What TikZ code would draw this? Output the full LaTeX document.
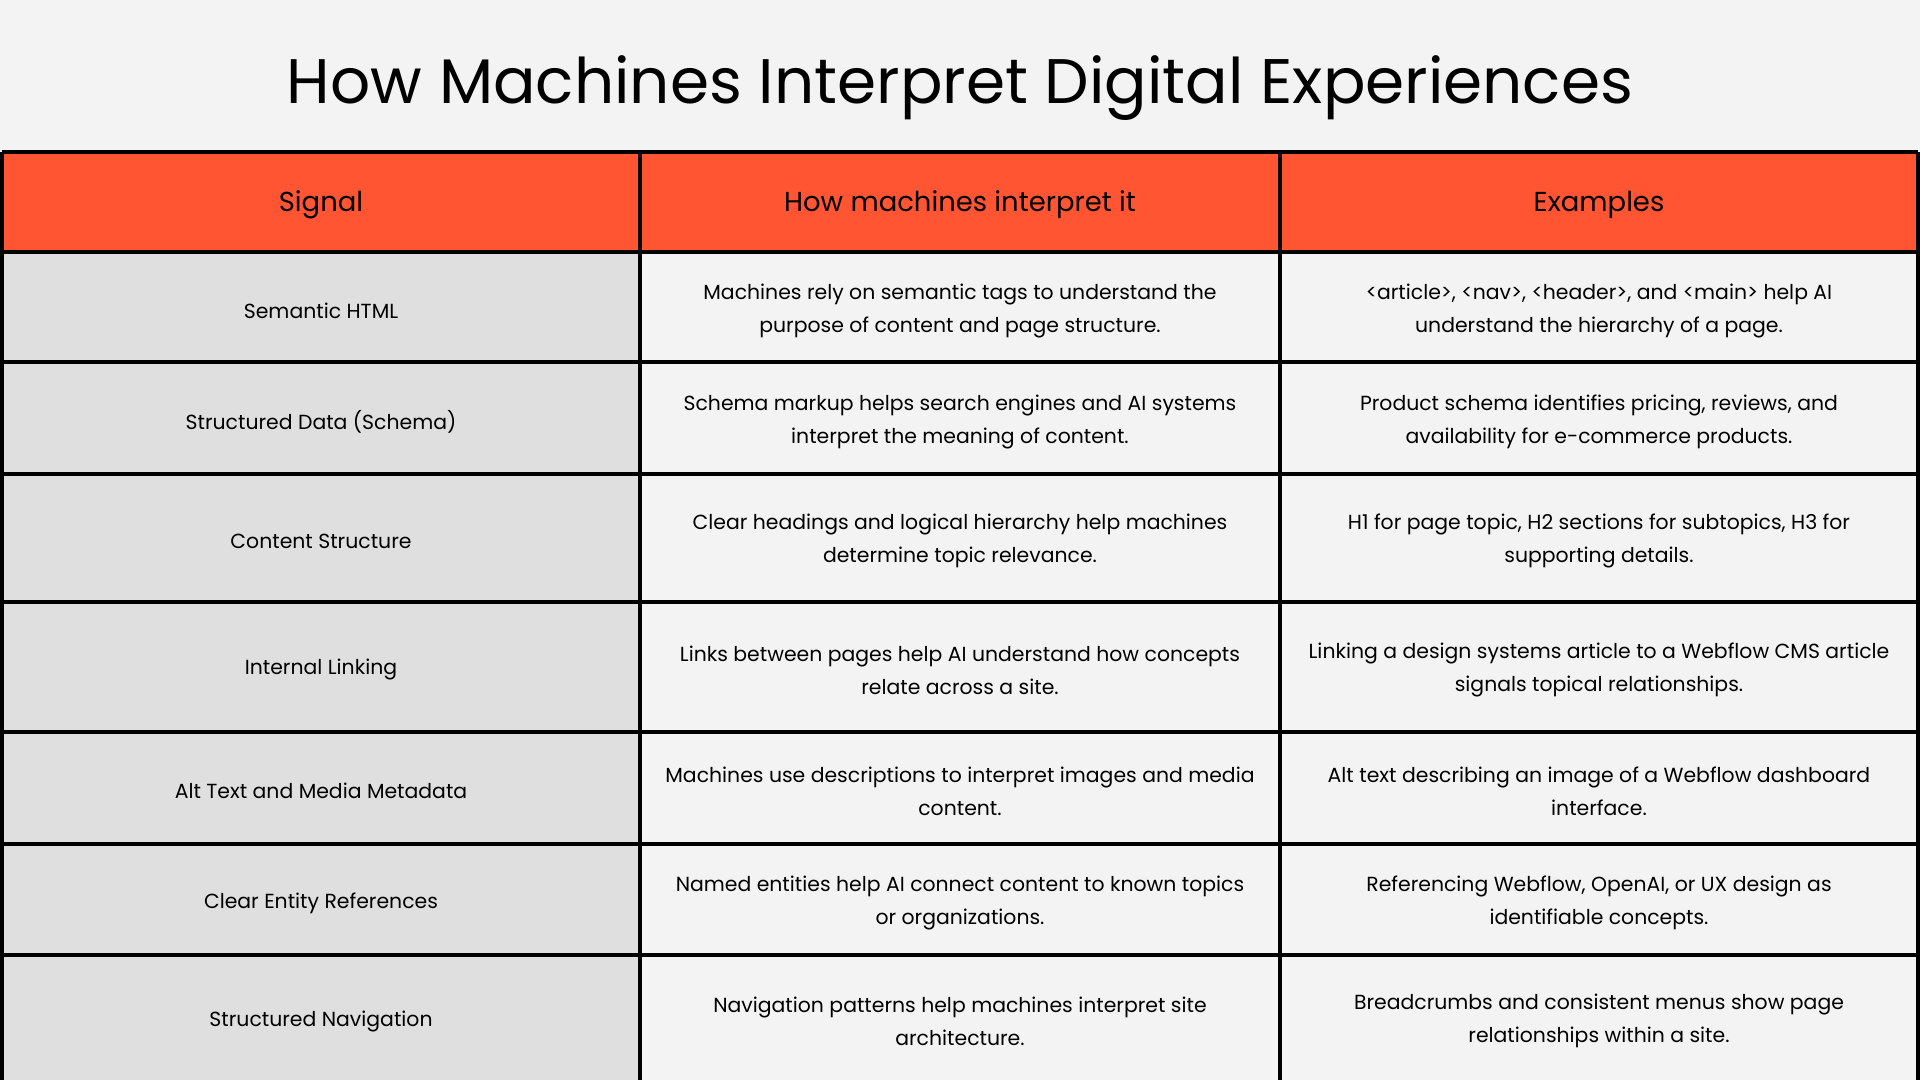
\documentclass[tikz,border=0pt]{standalone}
\usepackage{fontspec}
\setmainfont{Poppins}
\definecolor{bg}{HTML}{F3F3F3}
\definecolor{hdr}{HTML}{FF5533}
\definecolor{col1}{HTML}{DFDFDF}
\begin{document}
\begin{tikzpicture}[x=0.01cm,y=-0.01cm,
  cell/.style={align=center,font=\fontsize{5.8}{9.4}\selectfont},
  hcell/.style={align=center,font=\fontsize{7.8}{10}\selectfont}]
\fill[bg] (0,0) rectangle (1920,1080);
\useasboundingbox (0,0) rectangle (1920,1080);
\node (title) at (960,88) {\fontsize{17.9}{22}\selectfont How Machines Interpret Digital Experiences};
\fill[hdr] (2,152) rectangle (1918,252);
\fill[col1] (2,252) rectangle (640,1080);
\foreach \y in {152,252,362,474,602,732,844,955} \draw[line width=0.9pt] (2,\y) -- (1918,\y);
\foreach \x in {2,640,1280,1918} \draw[line width=0.9pt] (\x,152) -- (\x,1080);
\node[hcell] (h1) at (321,205) {Signal};
\node[hcell] (h2) at (960,205) {How machines interpret it};
\node[hcell] (h3) at (1599,205) {Examples};
\foreach \i/\yy/\a/\b/\c in {
 1/311/Semantic HTML/{Machines rely on semantic tags to understand the\\purpose of content and page structure.}/{<article>, <nav>, <header>, and <main> help AI\\understand the hierarchy of a page.},
 2/422/Structured Data (Schema)/{Schema markup helps search engines and AI systems\\interpret the meaning of content.}/{Product schema identifies pricing, reviews, and\\availability for e-commerce products.},
 3/541/Content Structure/{Clear headings and logical hierarchy help machines\\determine topic relevance.}/{H1 for page topic, H2 sections for subtopics, H3 for\\supporting details.},
 4/670/Internal Linking/{Links between pages help AI understand how concepts\\relate across a site.}/{Linking a design systems article to a Webflow CMS article\\signals topical relationships.},
 5/791/Alt Text and Media Metadata/{Machines use descriptions to interpret images and media\\content.}/{Alt text describing an image of a Webflow dashboard\\interface.},
 6/903/Clear Entity References/{Named entities help AI connect content to known topics\\or organizations.}/{Referencing Webflow, OpenAI, or UX design as\\identifiable concepts.},
 7/1021/Structured Navigation/{Navigation patterns help machines interpret site\\architecture.}/{Breadcrumbs and consistent menus show page\\relationships within a site.}}{
  \node[cell] (a\i) at (321,\yy) {\a};
  \node[cell] (b\i) at (960,\yy) {\b};
  \node[cell] (c\i) at (1599,\yy) {\c};
}
\end{tikzpicture}
\end{document}
